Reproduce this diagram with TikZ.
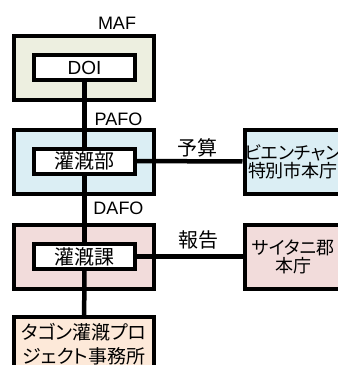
\documentclass[tikz,border=0pt]{standalone}
\usepackage{fontspec}
\setmainfont{Liberation Sans}
\newfontfamily\jp[RawFeature=+palt]{Noto Sans CJK JP}
\definecolor{mafgreen}{HTML}{EDEFE0}
\definecolor{pafoblue}{HTML}{DBEEF4}
\definecolor{dafopink}{HTML}{F2DCDB}
\definecolor{projpeach}{HTML}{FDE9D9}
\begin{document}
\begin{tikzpicture}[x=1pt,y=-1pt,
		outerbox/.style={draw,line width=4pt,minimum width=140pt,minimum height=64pt,inner sep=0pt},
		innerbox/.style={draw,fill=white,line width=4pt,minimum width=101pt,minimum height=25pt,inner sep=0pt,font=\fontsize{20}{22}\selectfont\jp},
		sidebox/.style={draw,line width=4pt,minimum width=97pt,minimum height=64pt,inner sep=0pt,align=center,font=\fontsize{18}{18}\selectfont\jp},
		lbl/.style={inner sep=0pt,font=\fontsize{18}{20}\selectfont},
		jlbl/.style={inner sep=0pt,font=\fontsize{20}{22}\selectfont\jp},
		link/.style={line width=4.5pt}]
		\useasboundingbox(0,0)rectangle(338,365);
		% outer boxes
		\node[outerbox,fill=mafgreen](mafbox)at(84,68){};
		\node[outerbox,fill=pafoblue](pafobox)at(84,161.5){};
		\node[outerbox,fill=dafopink](dafobox)at(84,256.5){};
		\node[outerbox,fill=projpeach,minimum height=54pt,align=center,font=\fontsize{19}{24}\selectfont\jp](tagon)at(84,344){タゴン灌漑プロ\\ジェクト事務所};
		% inner boxes
		\node[innerbox,font=\fontsize{19}{21}\selectfont](doi)at(84.5,67.5){DOI};
		\node[innerbox](bu)at(84.5,161){灌漑部};
		\node[innerbox](ka)at(84.5,256.5){灌漑課};
		% side boxes
		\node[sidebox,fill=pafoblue](vien)at(293,161.5){ビエンチャン\\特別市本庁};
		\node[sidebox,fill=dafopink](saita)at(293,256.5){サイタニ郡\\本庁};
		% labels
		\node[lbl](maf)at(117,23){MAF};
		\node[lbl](pafo)at(118.5,119){PAFO};
		\node[lbl](dafo)at(118.5,208){DAFO};
		\node[jlbl](yosan)at(197,148){予算};
		\node[jlbl](hokoku)at(198.5,240){報告};
		% links
		\draw[link](doi)--(bu);
		\draw[link](bu)--(ka);
		\draw[link](ka)--(tagon);
		\draw[link](bu)--(vien);
		\draw[link](ka)--(saita);
	\end{tikzpicture}
\end{document}
